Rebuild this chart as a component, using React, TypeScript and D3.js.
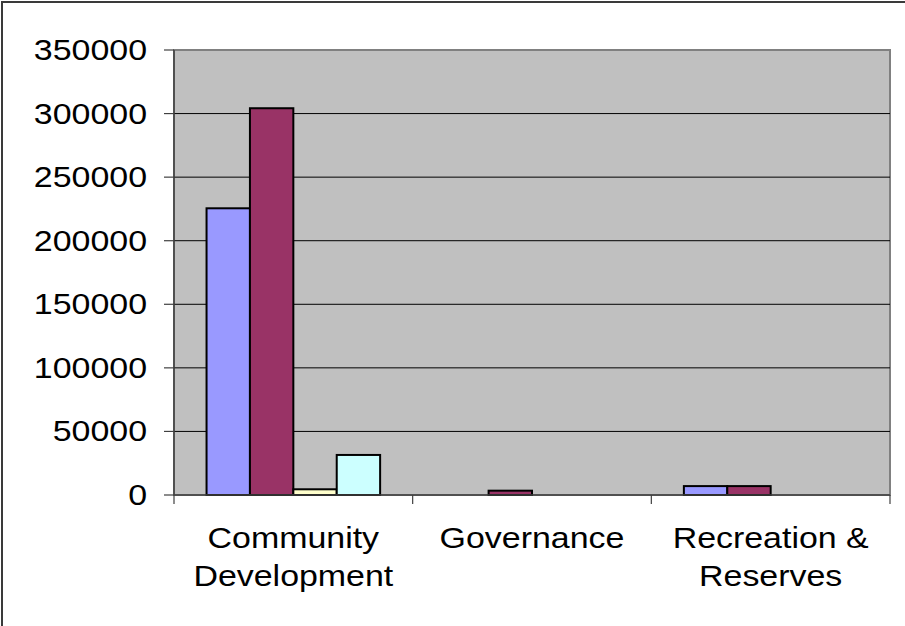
import React from "react";
import * as d3 from "d3";

const categories = [["Community", "Development"], ["Governance"], ["Recreation &", "Reserves"]];
const seriesColors = ["#9999FF", "#993366", "#FFFFCC", "#CCFFFF"];
const seriesA = [225500, 0, 7000];
const seriesB = [304200, 3400, 7000];
const seriesC = [4500, 0, 0];
const seriesD = [31500, 0, 0];
const yTicks = [0, 50000, 100000, 150000, 200000, 250000, 300000, 350000];

const W = 905;
const H = 626;
const plot = { left: 174, right: 890, top: 50, bottom: 495 };
const FONT = "'Liberation Sans', Arial, sans-serif";
const FS = 29;
const SX = 1.17;

export default function App() {
  const series = [seriesA, seriesB, seriesC, seriesD];
  const idx = categories.map((_, i) => String(i));
  const x0 = d3.scaleBand().domain(idx).range([plot.left, plot.right]).padding(0);
  const bw = x0.bandwidth();
  const barW = bw / 5.5;
  const gap = (bw - barW * 4) / 2;
  const x1 = d3.scaleBand().domain(["0", "1", "2", "3"]).range([gap, bw - gap]).padding(0);
  const y = d3.scaleLinear().domain([0, 350000]).range([plot.bottom, plot.top]);

  return (
    <svg
      width={W}
      height={H}
      style={{ position: "absolute", left: 0, top: 0, background: "#fff" }}
    >
      <rect x={2} y={2} width={W + 10} height={H + 10} fill="#fff" stroke="#3a3a3a" strokeWidth={2} />
      <rect
        x={plot.left}
        y={plot.top}
        width={plot.right - plot.left}
        height={plot.bottom - plot.top}
        fill="#C0C0C0"
        stroke="#808080"
        strokeWidth={2}
      />
      {yTicks.slice(1, -1).map((t) => (
        <line key={"g" + t} x1={plot.left} x2={plot.right} y1={y(t)} y2={y(t)} stroke="#000" strokeWidth={1} />
      ))}
      {series.map((vals, s) =>
        vals.map((v, c) =>
          v > 0 ? (
            <rect
              key={s + "-" + c}
              x={(x0(String(c)) as number) + (x1(String(s)) as number)}
              y={y(v)}
              width={x1.bandwidth()}
              height={y(0) - y(v)}
              fill={seriesColors[s]}
              stroke="#000"
              strokeWidth={2}
            />
          ) : null
        )
      )}
      {/* axes */}
      <line x1={plot.left} x2={plot.left} y1={plot.top} y2={plot.bottom} stroke="#404040" strokeWidth={1.5} />
      <line x1={plot.left} x2={plot.right} y1={plot.bottom} y2={plot.bottom} stroke="#404040" strokeWidth={1.5} />
      {yTicks.map((t) => (
        <g key={"t" + t}>
          <line x1={plot.left - 10} x2={plot.left} y1={y(t)} y2={y(t)} stroke="#404040" strokeWidth={1.2} />
          <text
            transform={`translate(147,${y(t) + 10}) scale(${SX},1)`}
            textAnchor="end"
            fontFamily={FONT}
            fontSize={FS}
            fill="#000"
          >
            {t}
          </text>
        </g>
      ))}
      {idx.concat([String(idx.length)]).map((k, i) => {
        const xx = i < idx.length ? (x0(k) as number) : plot.right;
        return <line key={"xt" + i} x1={xx} x2={xx} y1={plot.bottom} y2={plot.bottom + 9} stroke="#404040" strokeWidth={1.2} />;
      })}
      {categories.map((lines, i) => {
        const cx = (x0(String(i)) as number) + bw / 2;
        return lines.map((ln, j) => (
          <text
            key={"c" + i + j}
            transform={`translate(${cx},${548 + j * 38}) scale(${SX},1)`}
            textAnchor="middle"
            fontFamily={FONT}
            fontSize={FS}
            fill="#000"
          >
            {ln}
          </text>
        ));
      })}
    </svg>
  );
}
